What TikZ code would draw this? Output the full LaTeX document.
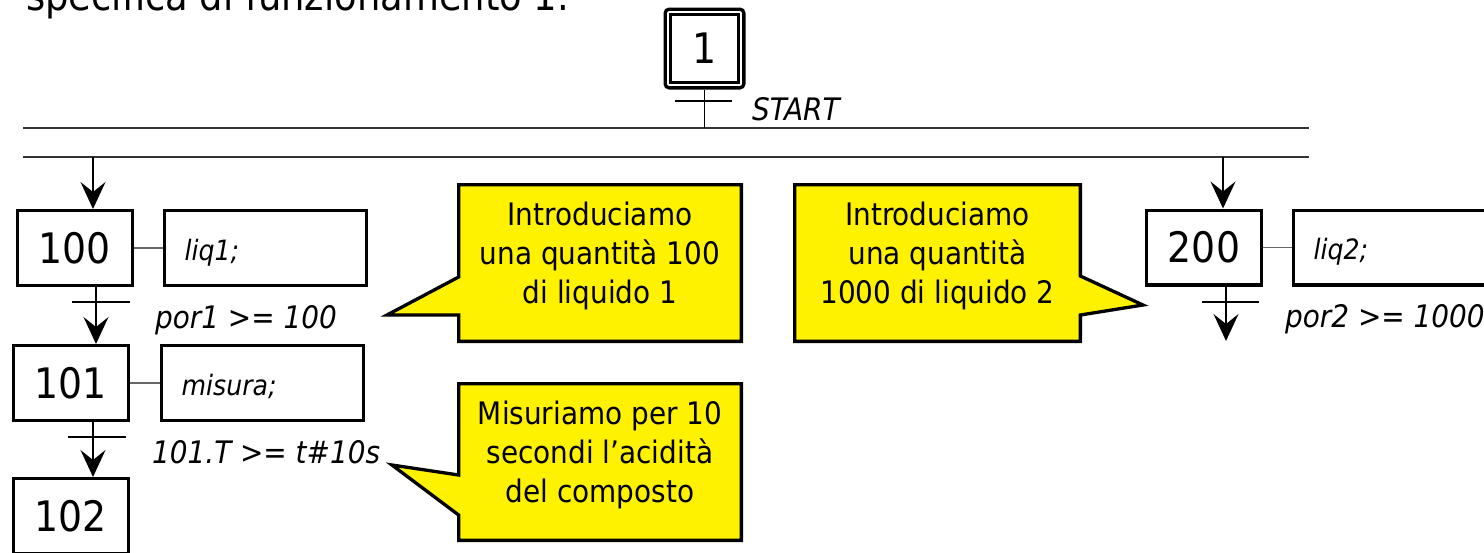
\documentclass[tikz,border=0pt]{standalone}
\usepackage{fontspec}
\setmainfont{DejaVu Sans Condensed}
\usepackage{tikz}
\usetikzlibrary{positioning,arrows.meta,fit}

\begin{document}
\begin{tikzpicture}[x=1pt, y=-1pt,
    >={Stealth[length=27pt,width=25pt,inset=10pt]},
    stepbox/.style={draw, line width=3.3pt, minimum width=114.7pt, minimum height=74.7pt, inner sep=0pt, font=\fontsize{42}{42}\selectfont},
    actbox/.style={draw, line width=3.3pt, minimum height=74.7pt, inner xsep=20pt, text width=161.7pt, align=left, text height=24pt, text depth=0pt, font=\fontsize{28}{28}\selectfont\itshape},
    link/.style={draw=black!60, line width=1.3pt},
    arr/.style={->, line width=1.5pt},
    tbar/.style={line width=1.2pt},
    rail/.style={draw=black!80, line width=1.3pt},
    cond/.style={anchor=base west, inner sep=0pt, font=\fontsize{31}{31}\selectfont\itshape},
    bubble/.style={draw, fill=yellow, line width=3.3pt, line join=miter},
    bubbletext/.style={align=center, inner sep=0pt, font=\fontsize{31}{39}\selectfont},
    frame/.style={minimum width=282.7pt, minimum height=156.7pt, inner sep=0pt, outer sep=0pt},
]
\useasboundingbox (0,0) rectangle (1484,552);

% --- Heading (cut by the page) ---
\node[anchor=base west, inner sep=0pt, font=\fontsize{41}{41}\selectfont] (title) at (26,10) {specifica di funzionamento 1.};

% --- Initial step ---
\node[stepbox, minimum width=67.7pt, minimum height=67.7pt] (s1) at (704.5,48.5) {1};
\node[draw, line width=3.3pt, rounded corners=4pt, fit=(s1), inner sep=3.85pt] (s1frame) {};

% Parallel rails
\coordinate (r1w) at (23,128);
\coordinate (r1e) at (1309,128);
\coordinate (r2w) at (23,157);
\coordinate (r2e) at (1309,157);
\draw[rail] (r1w) -- (r1e);
\draw[rail] (r2w) -- (r2e);

\coordinate (t1) at (704,101);
\draw[tbar] (s1frame.south) -- (s1frame.south |- r1w);
\draw[tbar] ([xshift=-29pt]t1) -- ([xshift=28pt]t1);
\node[cond] (tstart) at (752,120) {START};

% --- Branch 1 ---
\node[stepbox] (s100) at (75,248) {100};
\node[actbox, right=29pt of s100] (a100) {liq1;};
\node[stepbox] (s101) at (71,383) {101};
\node[actbox, right=30pt of s101] (a101) {misura;};
\node[stepbox] (s102) at (71,516) {102};

\draw[link] (s100) -- (a100);
\draw[link] (s101) -- (a101);

\coordinate (d100) at (93,157);
\draw[arr] (d100) -- (s100.north -| d100);

\coordinate (t100) at (96,302);
\draw[arr] (s100.south -| t100) -- (s101.north -| t100);
\draw[tbar] ([xshift=-24pt]t100) -- ([xshift=34pt]t100);
\node[cond] (c100) at (155,328) {por1 >= 100};

\coordinate (t101) at (93,437);
\draw[arr] (s101.south -| t101) -- (s102.north -| t101);
\draw[tbar] ([xshift=-25pt]t101) -- ([xshift=33pt]t101);
\node[cond] (c101) at (152,463) {101.T >= t\#10s};

% --- Branch 2 ---
\node[stepbox] (s200) at (1204,247.5) {200};
\node[actbox, right=29pt of s200] (a200) {liq2;};
\draw[link] (s200) -- (a200);

\coordinate (d200) at (1223,157);
\draw[arr] (d200) -- (s200.north -| d200);

\coordinate (t200) at (1226,302);
\coordinate (e200) at (1226,341);
\draw[arr] (s200.south -| t200) -- (e200);
\draw[tbar] ([xshift=-24pt]t200) -- ([xshift=33pt]t200);
\node[cond] (c200) at (1285,327) {por2 >= 1000};

% --- Comments ---
\node[frame] (n1) at (600,263) {};
\coordinate (p1a) at (0,277);
\coordinate (p1b) at (0,315);
\coordinate (p1) at (387,315);
\draw[bubble] (n1.north west) -- (n1.north east) -- (n1.south east) -- (n1.south west)
    -- (n1.west |- p1b) -- (p1) -- (n1.west |- p1a) -- cycle;
\node[bubbletext] (n1txt) at ([yshift=7pt]n1.center) {Introduciamo\\una quantità 100\\di liquido 1};

\node[frame, minimum width=285.7pt] (n2) at (937.5,263) {};
\coordinate (p2a) at (0,276);
\coordinate (p2b) at (0,315);
\coordinate (p2) at (1143,305);
\draw[bubble] (n2.north west) -- (n2.north east) -- (n2.east |- p2a) -- (p2)
    -- (n2.east |- p2b) -- (n2.south east) -- (n2.south west) -- cycle;
\node[bubbletext] (n2txt) at ([yshift=7pt]n2.center) {Introduciamo\\una quantità\\1000 di liquido 2};

\node[frame] (n3) at (600,462) {};
\coordinate (p3a) at (0,475);
\coordinate (p3b) at (0,515);
\coordinate (p3) at (392,465);
\draw[bubble] (n3.north west) -- (n3.north east) -- (n3.south east) -- (n3.south west)
    -- (n3.west |- p3b) -- (p3) -- (n3.west |- p3a) -- cycle;
\node[bubbletext] (n3txt) at ([yshift=7pt]n3.center) {Misuriamo per 10\\secondi l’acidità\\del composto};

\end{tikzpicture}
\end{document}
